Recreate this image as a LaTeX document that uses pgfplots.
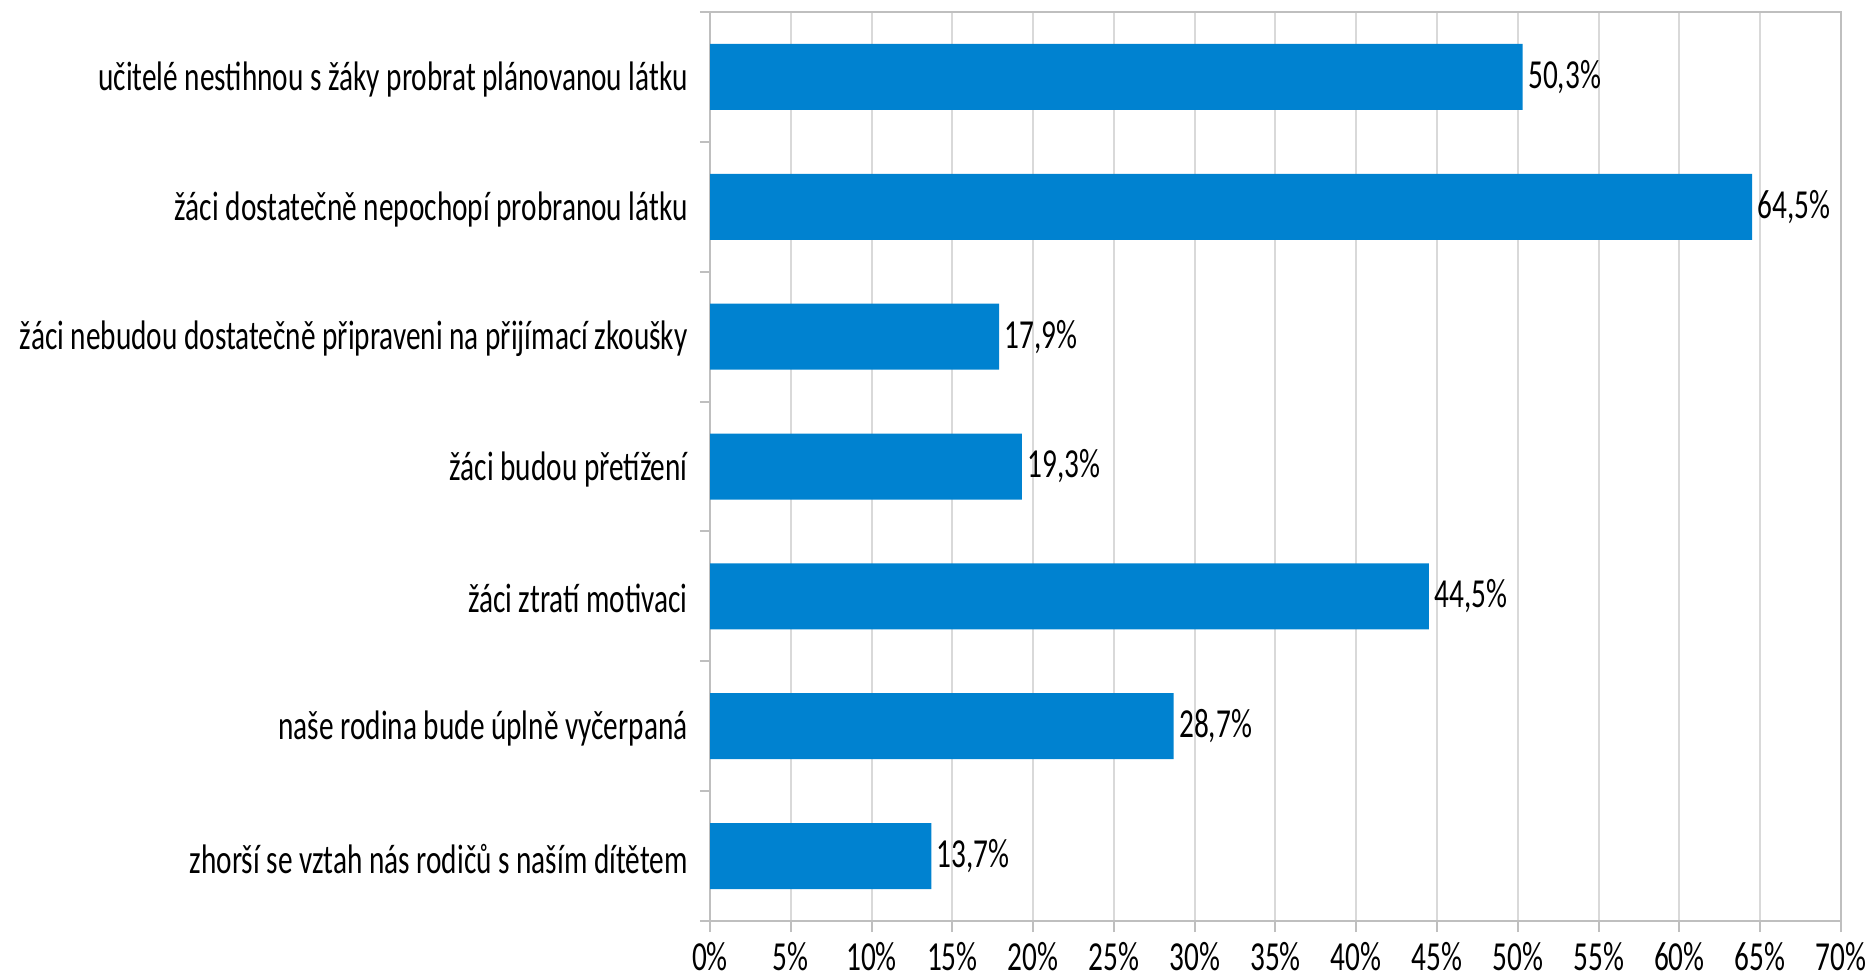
\documentclass[border=0pt]{standalone}
\usepackage{fontspec}
\setmainfont{Carlito}[FakeStretch=0.71]
\usepackage{pgfplots}
\pgfplotsset{compat=1.18}
\definecolor{barblue}{HTML}{0082D0}
\definecolor{gridgray}{HTML}{D9D9D9}
\definecolor{axgray}{HTML}{BFBFBF}
\begin{document}
\begin{tikzpicture}
\useasboundingbox (0,0) rectangle (746.8pt,390.8pt);
\begin{axis}[
  at={(284pt,22.4pt)}, anchor=south west,
  scale only axis, width=452.4pt, height=363.6pt,
  xbar, bar width=26.4pt,
  xmin=0, xmax=70, ymin=-0.5, ymax=6.5, y dir=reverse,
  xtick={0,5,...,70},
  xticklabels={0\%,5\%,10\%,15\%,20\%,25\%,30\%,35\%,40\%,45\%,50\%,55\%,60\%,65\%,70\%},
  xmajorgrids, major grid style={gridgray, line width=0.8pt},
  axis line style={axgray, line width=1pt},
  tick align=outside,
  xtick pos=bottom, ytick pos=left,
  major tick length=4.4pt, minor tick length=4pt,
  ytick={0,...,6},
  minor ytick={-0.5,0.5,...,6.5},
  major y tick style={draw=none},
  minor y tick style={draw=axgray, line width=0.8pt},
  major x tick style={draw=axgray, line width=0.8pt},
  yticklabels={
    učitelé nestihnou s žáky probrat plánovanou látku,
    žáci dostatečně nepochopí probranou látku,
    žáci nebudou dostatečně připraveni na přijímací zkoušky,
    žáci budou přetížení,
    žáci ztratí motivaci,
    naše rodina bude úplně vyčerpaná,
    zhorší se vztah nás rodičů s naším dítětem},
  tick label style={font=\fontsize{16.5}{19}\selectfont, text=black},
  yticklabel style={xshift=-1pt, yshift=-1pt},
  xticklabel style={inner sep=0pt, yshift=-4pt},
  nodes near coords={\pgfmathprintnumber[fixed,fixed zerofill,precision=1,use comma,assume math mode=true]{\pgfplotspointmeta}\%},
  nodes near coords style={font=\fontsize{16.5}{19}\selectfont, text=black, anchor=west, inner sep=1pt, xshift=1pt},
]
\addplot[fill=barblue, draw=none] coordinates {
  (50.3,0) (64.5,1) (17.9,2) (19.3,3) (44.5,4) (28.7,5) (13.7,6)
};
\end{axis}
\end{tikzpicture}
\end{document}
